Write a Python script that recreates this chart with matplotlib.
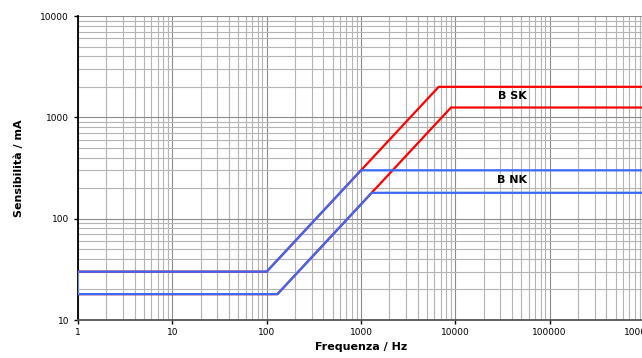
import numpy as np
import matplotlib.pyplot as plt
from matplotlib.ticker import LogLocator, NullFormatter, FixedLocator

# ---------------------------------------------------
# curve corner points (frequency in Hz, sensitivity in mA)
sk_hi_f = [1, 100, 6667, 1e6]
sk_hi_i = [30, 30, 2000, 2000]
sk_lo_f = [1, 130, 9000, 1e6]
sk_lo_i = [18, 18, 1250, 1250]
nk_hi_f = [1, 100, 1000, 1e6]
nk_hi_i = [30, 30, 300, 300]
nk_lo_f = [1, 130, 1300, 1e6]
nk_lo_i = [18, 18, 180, 180]
nk_edge_f = [1, 1]
nk_edge_i = [18, 30]

x_ticks = [1, 10, 100, 1000, 10000, 100000, 1000000]
y_ticks = [10, 100, 1000, 10000]
# ---------------------------------------------------

red = '#ff0000'
blue = '#3a6af5'

fig = plt.figure(figsize=(6.42, 3.58), dpi=100)
ax = fig.add_axes([78 / 642, 38 / 358, 566 / 642, 304 / 358])

ax.plot(sk_hi_f, sk_hi_i, color=red, lw=1.6, zorder=3)
ax.plot(sk_lo_f, sk_lo_i, color=red, lw=1.6, zorder=3)
ax.plot(nk_hi_f, nk_hi_i, color=blue, lw=1.6, zorder=4)
ax.plot(nk_lo_f, nk_lo_i, color=blue, lw=1.6, zorder=4)
ax.plot(nk_edge_f, nk_edge_i, color='#7fa0ff', lw=1.2, zorder=4)

ax.set_xscale('log')
ax.set_yscale('log')
ax.set_xlim(1, 1e6)
ax.set_ylim(10, 10000)

ax.xaxis.set_major_locator(FixedLocator(x_ticks))
ax.yaxis.set_major_locator(FixedLocator(y_ticks))
ax.set_xticklabels([str(v) for v in x_ticks])
ax.set_yticklabels([str(v) for v in y_ticks])
ax.xaxis.set_minor_locator(LogLocator(base=10, subs=np.arange(2, 10)))
ax.yaxis.set_minor_locator(LogLocator(base=10, subs=np.arange(2, 10)))
ax.xaxis.set_minor_formatter(NullFormatter())
ax.yaxis.set_minor_formatter(NullFormatter())

ax.grid(True, which='major', color='#8c8c8c', lw=0.8)
ax.grid(True, which='minor', color='#b4b4b4', lw=0.8)
ax.set_axisbelow(True)

ax.tick_params(axis='both', which='major', labelsize=6.5, length=3, width=1)
ax.tick_params(axis='both', which='minor', length=0)
ax.tick_params(axis='x', pad=3)

for s in ['top', 'right']:
    ax.spines[s].set_visible(False)
ax.spines['left'].set_color('black')
ax.spines['left'].set_linewidth(1.3)
ax.spines['bottom'].set_color('#555555')
ax.spines['bottom'].set_linewidth(1.3)

ax.set_xlabel('Frequenza / Hz', fontsize=8, fontweight='bold', labelpad=3)
ax.set_ylabel('Sensibilità / mA', fontsize=8, fontweight='bold', labelpad=12)

ax.text(40000, 1620, 'B SK', fontsize=8, fontweight='bold', ha='center', va='center')
ax.text(40000, 240, 'B NK', fontsize=8, fontweight='bold', ha='center', va='center')

fig.savefig('out.png', dpi=100)
